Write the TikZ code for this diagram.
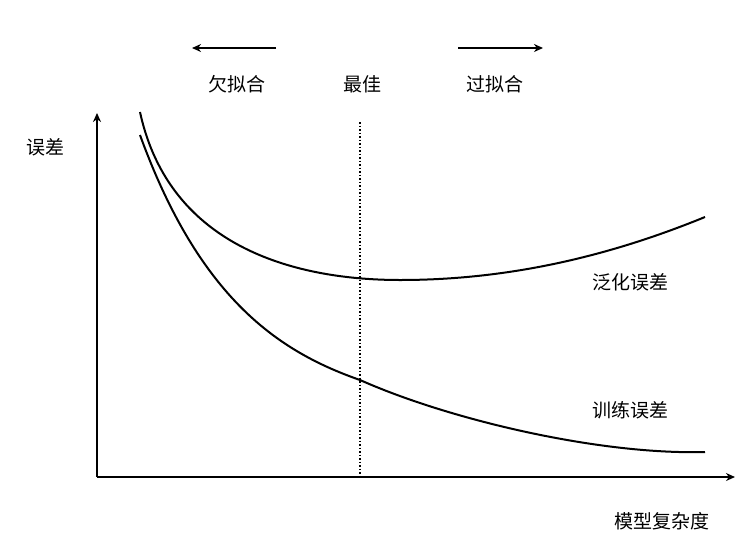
\documentclass[tikz,border=0pt]{standalone}
\usepackage{fontspec}
\newfontfamily\cjk{Noto Sans CJK SC}
\usetikzlibrary{arrows.meta}
\begin{document}
\begin{tikzpicture}[x=1pt,y=-1pt,
  lab/.style={font=\cjk\fontsize{19}{22}\selectfont,inner sep=0pt},
  ax/.style={line width=1.6pt,-{Stealth[length=9pt,width=8pt]}},
  crv/.style={line width=2pt}]
\useasboundingbox (0,0) rectangle (748,558);
\coordinate (o) at (97,477);
\coordinate (yt) at (97,113);
\coordinate (xt) at (735,477);
\draw[ax] (o) -- (yt);
\draw[ax] (o) -- (xt);
\coordinate (dt) at (360,122);
\coordinate (db) at (360,477);
\draw[line width=1.5pt,dotted] (dt) -- (db);
\draw[crv] (140,112) .. controls (170,250) and (300,280) .. (400,280) .. controls (500,280) and (600,260) .. (705,217);
\draw[crv] (140,135) .. controls (200,300) and (280,352) .. (360,380) .. controls (450,420) and (600,455) .. (705,452);
\coordinate (la1) at (276,48); \coordinate (la2) at (192,48);
\coordinate (ra1) at (458,48); \coordinate (ra2) at (543,48);
\draw[ax] (la1) -- (la2);
\draw[ax] (ra1) -- (ra2);
\node[lab] (e) at (46,147) {误差};
\node[lab] (u) at (237,84) {欠拟合};
\node[lab] (b) at (362,84) {最佳};
\node[lab] (ov) at (495,84) {过拟合};
\node[lab] (g) at (630,282) {泛化误差};
\node[lab] (t) at (630,410) {训练误差};
\node[lab] (m) at (662,521) {模型复杂度};
\end{tikzpicture}
\end{document}
